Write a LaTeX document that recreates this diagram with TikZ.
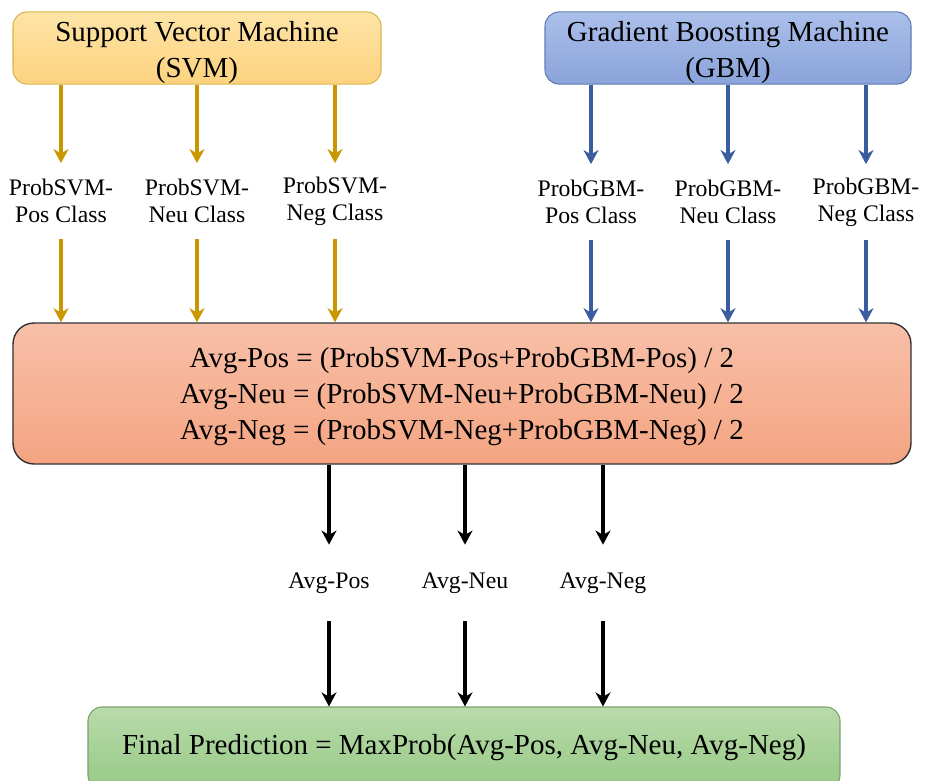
\documentclass[tikz,border=0pt]{standalone}
\usepackage{fontspec}
\setmainfont{Liberation Serif}
\usepackage{tikz}
\usetikzlibrary{arrows.meta,shapes,positioning}
\definecolor{svmline}{HTML}{C99700}
\definecolor{gbmline}{HTML}{3A5DA0}
\definecolor{svmtop}{HTML}{FDE4A6}
\definecolor{svmbot}{HTML}{FDD27F}
\definecolor{gbmtop}{HTML}{ABBFEB}
\definecolor{gbmbot}{HTML}{8AA3D9}
\definecolor{avgtop}{HTML}{F8C0A8}
\definecolor{avgbot}{HTML}{F4A482}
\definecolor{fintop}{HTML}{B8DBAB}
\definecolor{finbot}{HTML}{98C985}
\newcommand{\bigfont}{\fontsize{16.5}{20.5}\selectfont}
\newcommand{\smallfont}{\fontsize{13.5}{15.5}\selectfont}
\newcommand{\lift}[1]{\rule{0pt}{#1}}

\begin{document}
\begin{tikzpicture}[x=0.2mm, y=-0.2mm,
        modelbox/.style = {rectangle, rounded corners=8pt, align=center, font=\bigfont,
            minimum height=1.4cm, inner sep=0pt, line width=0.6pt},
        problabel/.style = {align=center, font=\smallfont, minimum height=1.5cm, inner sep=0pt},
        avglabel/.style = {align=center, font=\smallfont, minimum height=1.52cm, inner sep=0pt},
        flowarrow/.style = {line width=1.8pt, -{Stealth[length=8pt, width=8.5pt, inset=2.5pt]}},
        svmarrow/.style = {flowarrow, draw=svmline},
        gbmarrow/.style = {flowarrow, draw=gbmline}]
    %\draw[help lines] (0,0) grid[step=50] (925,780);
    \useasboundingbox (0,0) rectangle (925,780);

    % the two models
    \node[modelbox, minimum width=7.36cm, draw=svmline!70, top color=svmtop, bottom color=svmbot]
        (svm) at (197,48) {\lift{17pt}Support Vector Machine\\(SVM)};
    \node[modelbox, minimum width=7.32cm, draw=gbmline!80, top color=gbmtop, bottom color=gbmbot]
        (gbm) at (728,48) {\lift{17pt}Gradient Boosting Machine\\(GBM)};

    % averaging of the class probabilities
    \node[rectangle, rounded corners=12pt, minimum width=17.96cm, minimum height=2.82cm, draw=black!80,
        line width=0.8pt, top color=avgtop, bottom color=avgbot,
        align=center, font=\bigfont, inner sep=0pt] (avg) at (462,393.5)
        {\lift{15pt}Avg-Pos = (ProbSVM-Pos+ProbGBM-Pos) / 2\\
         Avg-Neu = (ProbSVM-Neu+ProbGBM-Neu) / 2\\
         Avg-Neg = (ProbSVM-Neg+ProbGBM-Neg) / 2};

    % final decision
    \node[rectangle, rounded corners=8pt, minimum width=15.04cm, minimum height=1.64cm, draw=finbot!80!black,
        line width=0.6pt, top color=fintop, bottom color=finbot,
        font=\bigfont, inner sep=0pt] (final) at (464,748)
        {Final Prediction = MaxProb(Avg-Pos, Avg-Neu, Avg-Neg)};

    \foreach \i/\x/\c in {1/61/Pos, 2/197/Neu, 3/335/Neg} {
        \node[problabel] (psvm\i) at (\x,201) {ProbSVM-\\\c{} Class};
        \draw[svmarrow] (svm.south -| psvm\i.north) -- (psvm\i.north);
        \draw[svmarrow] (psvm\i.south) -- (psvm\i.south |- avg.north);
    }
    \foreach \i/\x/\c in {1/591/Pos, 2/728/Neu, 3/866/Neg} {
        \node[problabel] (pgbm\i) at (\x,202) {ProbGBM-\\\c{} Class};
        \draw[gbmarrow] (gbm.south -| pgbm\i.north) -- (pgbm\i.north);
        \draw[gbmarrow] (pgbm\i.south) -- (pgbm\i.south |- avg.north);
    }
    \foreach \i/\x/\c in {1/329/Pos, 2/465/Neu, 3/603/Neg} {
        \node[avglabel] (avg\i) at (\x,583) {Avg-\c};
        \draw[flowarrow] (avg.south -| avg\i.north) -- (avg\i.north);
        \draw[flowarrow] (avg\i.south) -- (avg\i.south |- final.north);
    }
\end{tikzpicture}
\end{document}
